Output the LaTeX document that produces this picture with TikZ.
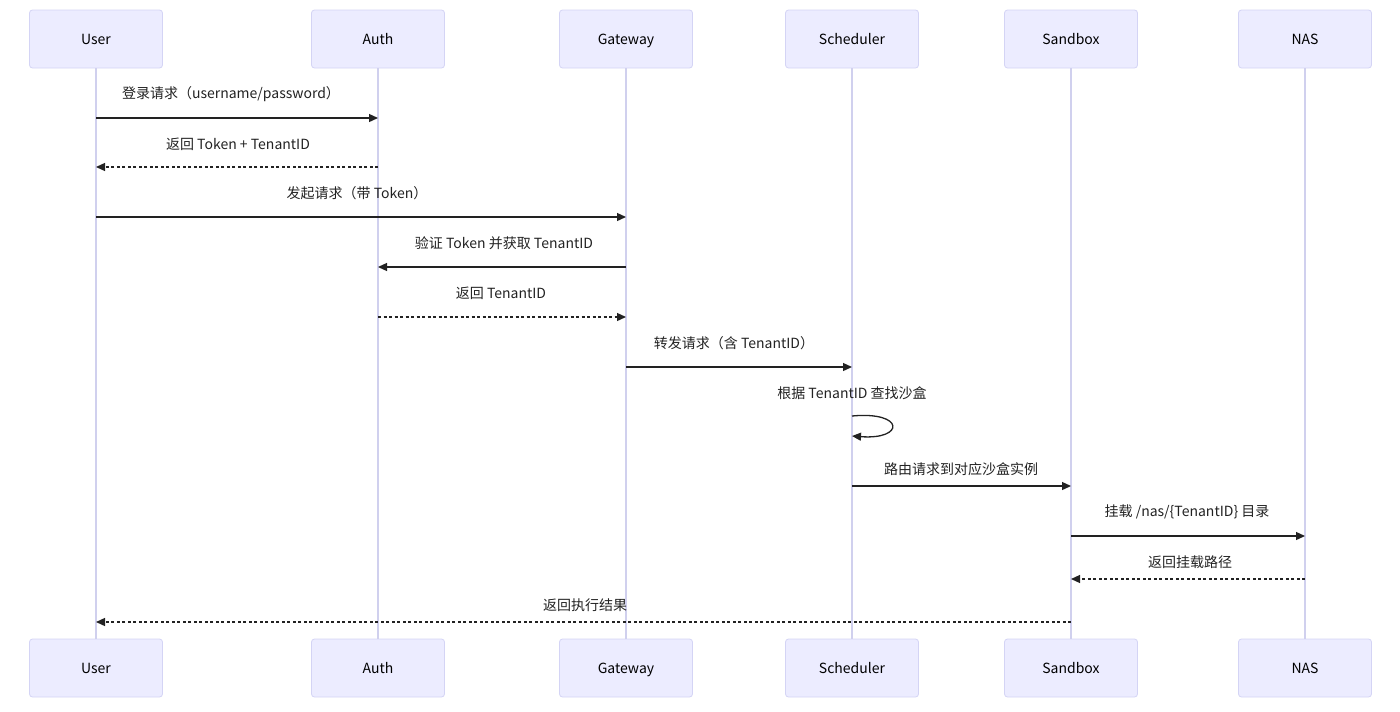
\documentclass[tikz,border=0pt]{standalone}
\usepackage{fontspec}
\setmainfont{Noto Sans CJK SC}
\usetikzlibrary{arrows.meta}
\definecolor{boxfill}{HTML}{ECECFF}
\definecolor{boxline}{HTML}{D4D4F5}
\definecolor{lifeline}{HTML}{D0D0EE}
\definecolor{ink}{HTML}{222222}
\tikzset{
  actor/.style={draw=boxline, fill=boxfill, rounded corners=3pt, minimum width=133pt, minimum height=58pt, inner sep=0pt, text height=12.5pt, text depth=1pt, font=\fontsize{14}{16}\selectfont, text=black, line width=0.8pt},
  life/.style={draw=lifeline, line width=1.2pt},
  msg/.style={draw=ink, line width=1.3pt, -{Triangle[length=9pt,width=8pt]}},
  reply/.style={msg, dash pattern=on 3pt off 2.5pt},
  lbl/.style={font=\fontsize{14}{16}\selectfont, text=ink, inner sep=0pt}
}
\begin{document}
\begin{tikzpicture}[x=1pt,y=-1pt]
\useasboundingbox (0,0) rectangle (1400,712);
% participants top
\node[actor] (uT) at (96,39) {User};
\node[actor] (aT) at (378,39) {Auth};
\node[actor] (gT) at (626,39) {Gateway};
\node[actor] (sT) at (852,39) {Scheduler};
\node[actor] (bT) at (1071,39) {Sandbox};
\node[actor] (nT) at (1305,39) {NAS};
% participants bottom
\node[actor] (uB) at (96,668) {User};
\node[actor] (aB) at (378,668) {Auth};
\node[actor] (gB) at (626,668) {Gateway};
\node[actor] (sB) at (852,668) {Scheduler};
\node[actor] (bB) at (1071,668) {Sandbox};
\node[actor] (nB) at (1305,668) {NAS};
% lifelines
\foreach \p in {u,a,g,s,b,n} \draw[life] (\p T.south) -- (\p B.north);
% message levels
\coordinate (y1) at (0,118);
\coordinate (y2) at (0,167);
\coordinate (y3) at (0,217);
\coordinate (y4) at (0,267);
\coordinate (y5) at (0,317);
\coordinate (y6) at (0,367);
\coordinate (y7a) at (0,416);
\coordinate (y7b) at (0,436);
\coordinate (y8) at (0,486);
\coordinate (y9) at (0,536);
\coordinate (y10) at (0,579);
\coordinate (y11) at (0,622);
% messages
\draw[msg] (uT |- y1) -- (aT |- y1);
\node[lbl] (l1) at (231,94) {登录请求（username/password）};
\draw[reply] (aT |- y2) -- (uT |- y2);
\node[lbl] (l2) at (238,144) {返回 Token + TenantID};
\draw[msg] (uT |- y3) -- (gT |- y3);
\node[lbl] (l3) at (357,193) {发起请求（带 Token）};
\draw[msg] (gT |- y4) -- (aT |- y4);
\node[lbl] (l4) at (504,243) {验证 Token 并获取 TenantID};
\draw[reply] (aT |- y5) -- (gT |- y5);
\node[lbl] (l5) at (501,293) {返回 TenantID};
\draw[msg] (gT |- y6) -- (sT |- y6);
\node[lbl] (l6) at (734,343) {转发请求（含 TenantID）};
\node[lbl] (l7) at (852,393) {根据 TenantID 查找沙盒};
\draw[msg] (sT |- y7a) .. controls (905,411) and (905,440) .. (sT |- y7b);
\draw[msg] (sT |- y8) -- (bT |- y8);
\node[lbl] (l8) at (961,469) {路由请求到对应沙盒实例};
\draw[msg] (bT |- y9) -- (nT |- y9);
\node[lbl] (l9) at (1187,512) {挂载 /nas/\{TenantID\} 目录};
\draw[reply] (nT |- y10) -- (bT |- y10);
\node[lbl] (l10) at (1190,562) {返回挂载路径};
\draw[reply] (bT |- y11) -- (uT |- y11);
\node[lbl] (l11) at (585,605) {返回执行结果};
\end{tikzpicture}
\end{document}
